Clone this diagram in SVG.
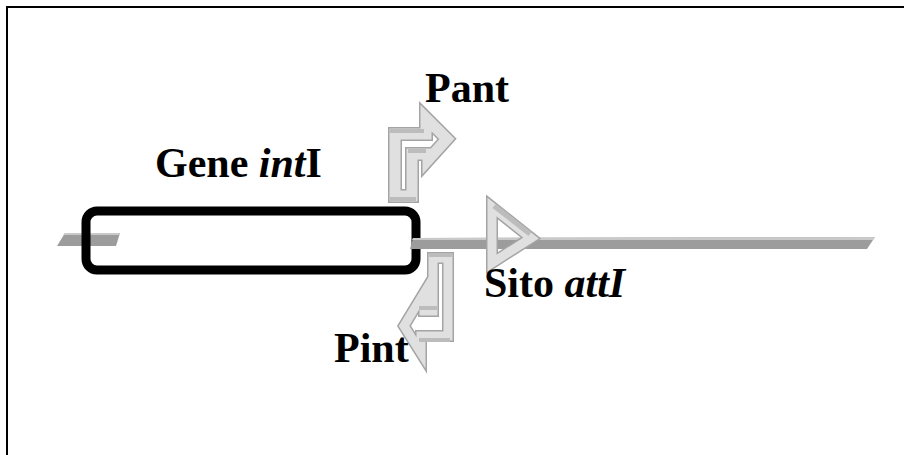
<svg xmlns="http://www.w3.org/2000/svg" width="904" height="455" viewBox="0 0 904 455">
  <style>
    .lbl { font-family: "Liberation Serif", "Times New Roman", serif; font-weight: bold; font-size: 42px; fill: #000; }
    .it { font-style: italic; }
    .edge { fill: none; stroke: #a4a4a4; stroke-linejoin: miter; }
    .face { fill: none; stroke: #e0e0e0; stroke-linejoin: miter; }
    .shade { fill: none; stroke: #bcbcbc; stroke-linecap: butt; }
    .dna { fill: #9c9c9c; }
    .dnatop { fill: #c9c9c9; }
  </style>
  <rect x="0" y="0" width="904" height="455" fill="#ffffff"/>
  <path d="M7,455 V7 H904" fill="none" stroke="#000" stroke-width="2"/>

  <g id="connectors">
    <g id="dna-left">
      <polygon class="dna" points="65,233 120,233 116,246 57,246"/>
      <polygon class="dnatop" points="65,233 120,233 119,235 63,235"/>
    </g>
  </g>

  <g id="node-gene">
    <rect x="86" y="211" width="330" height="59" rx="11" ry="11" fill="none" stroke="#000" stroke-width="9"/>
    <text class="lbl" x="155" y="177">Gene <tspan class="it">int</tspan>I</text>
  </g>

  <g id="dna-right">
    <polygon class="dna" points="413,238 875,237 867,249 410,249"/>
    <polygon class="dnatop" points="413,238 875,237 873,240 412,240"/>
  </g>

  <g id="node-pant">
    <path class="edge" stroke-width="14" d="M395,196 V134 H426 V118 L447,139 L428,160 V154 H412 V196 Z"/>
    <path class="face" stroke-width="11" d="M395,196 V134 H426 V118 L447,139 L428,160 V154 H412 V196 Z"/>
    <path class="shade" stroke-width="4" d="M390,131 H424 M408,151 H426 M390,199 H416"/>
    <text class="lbl" x="425" y="102">Pant</text>
  </g>

  <g id="node-attI">
    <path class="edge" stroke-width="12" d="M492,207 L531,238 L492,263 Z"/>
    <path class="face" stroke-width="9" d="M492,207 L531,238 L492,263 Z"/>
    <path class="shade" stroke-width="5" d="M494,206 L530,234"/>
    <text class="lbl" x="484" y="297">Sito <tspan class="it">attI</tspan></text>
  </g>

  <g id="node-pint">
    <path class="edge" stroke-width="12" d="M433,258 H448 V336 H421 V353 L404,326 L424,293 V311 H433 Z"/>
    <path class="face" stroke-width="9" d="M433,258 H448 V336 H421 V353 L404,326 L424,293 V311 H433 Z"/>
    <path class="shade" stroke-width="4" d="M429,255 H452 M419,308 H437 M419,340 H450"/>
    <text class="lbl" x="334" y="362">Pint</text>
  </g>
</svg>
